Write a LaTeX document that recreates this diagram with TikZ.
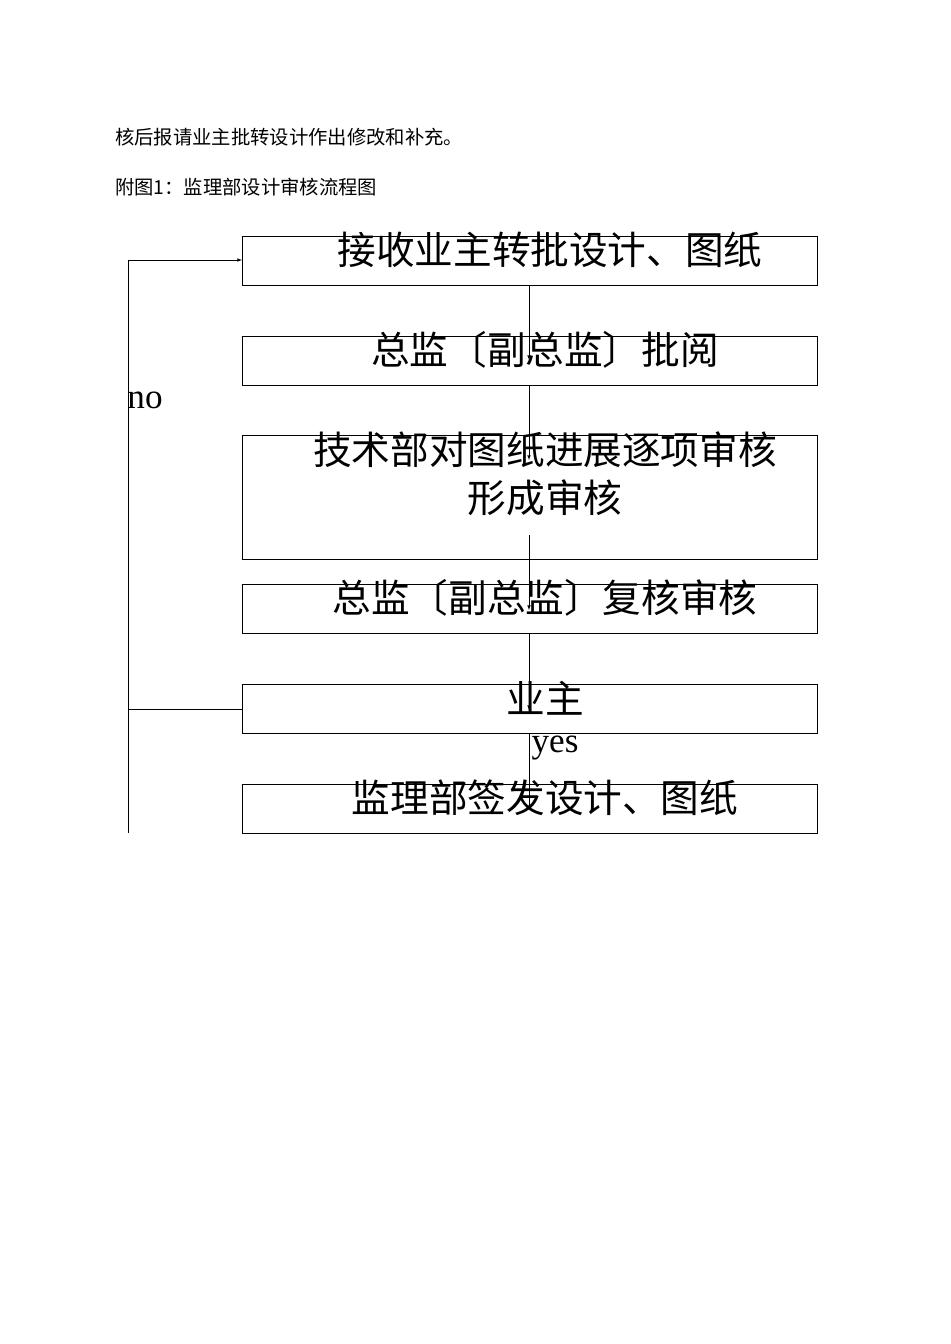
\documentclass[tikz,border=0pt]{standalone}
\usepackage{fontspec}
\setmainfont{Liberation Serif}
\newfontfamily\cjk{Noto Sans CJK SC}
\usetikzlibrary{positioning}
\tikzset{
  box/.style={draw, minimum width=575*0.03cm, minimum height=49*0.03cm, inner sep=0pt, anchor=north west},
  big/.style={font=\cjk\fontsize{33}{36}\selectfont, inner sep=0pt},
  small/.style={font=\cjk\fontsize{16.5}{18}\selectfont, inner sep=0pt, anchor=west},
  lab/.style={font=\fontsize{30}{32}\selectfont, inner sep=0pt},
  flow/.style={-latex}
}
\begin{document}
\begin{tikzpicture}[x=0.03cm,y=-0.03cm]
   \useasboundingbox (0,0) rectangle (950,1344);
   \node[small] (t1) at (115,137) {核后报请业主批转设计作出修改和补充。};
   \node[small] (t2) at (115,187) {附图1：监理部设计审核流程图};
   % boxes
   \node[box] (b1) at (242,236) {};
   \node[box] (b2) at (242,336) {};
   \node[box, minimum height=124*0.03cm] (b3) at (242,435) {};
   \node[box] (b4) at (242,584) {};
   \node[box] (b5) at (242,684) {};
   \node[box] (b6) at (242,784) {};
   \node[big] (x1) at (550,250) {接收业主转批设计、图纸};
   \node[big] (x2) at (545,350) {总监〔副总监〕批阅};
   \node[big] (x3) at (545,450) {技术部对图纸进展逐项审核};
   \node[big] (x3b) at (545,498) {形成审核};
   \node[big] (x4) at (545,598) {总监〔副总监〕复核审核};
   \node[big] (x5) at (545,698) {业主};
   \node[big] (x6) at (545,798) {监理部签发设计、图纸};
   \node[lab] (no) at (145,400) {no};
   \node[lab] (yes) at (555,748) {yes};
   % connectors
   \coordinate (e2) at (529,360); \coordinate (e3) at (529,460);
   \coordinate (s4) at (529,535); \coordinate (e4) at (529,610);
   \coordinate (e5) at (529,710); \coordinate (e6) at (529,810);
   \draw[flow] (b1.south -| e2) -- (e2);
   \draw[flow] (b2.south -| e3) -- (e3);
   \draw[flow] (s4) -- (e4);
   \draw[flow] (b4.south -| e5) -- (e5);
   \draw[flow] (b5.south -| e6) -- (e6);
   \coordinate (l1) at (128,260); \coordinate (l2) at (128,833);
   \draw (b5.west) -- (b5.west -| l1);
   \draw (l2) -- (l1);
   \draw[flow] (l1) -- (b1.west |- l1);
\end{tikzpicture}
\end{document}
